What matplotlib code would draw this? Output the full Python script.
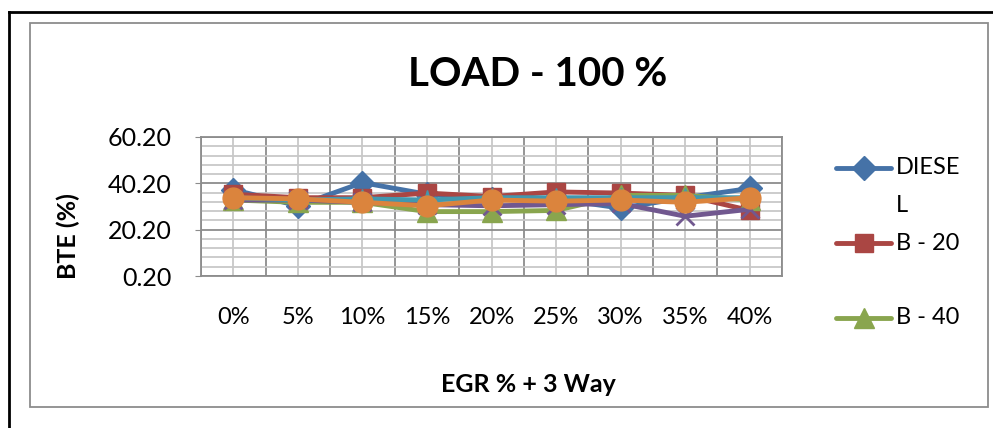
import matplotlib
matplotlib.use('Agg')
import matplotlib.pyplot as plt
from matplotlib.lines import Line2D
from matplotlib.patches import Rectangle
from matplotlib.ticker import FixedLocator

plt.rcParams['font.family'] = ['Lato', 'DejaVu Sans']

categories = ['0%', '5%', '10%', '15%', '20%', '25%', '30%', '35%', '40%']
diesel = [37.5, 30.5, 40.5, 35.5, 33.5, 33.5, 29.5, 34.0, 38.0]
b20 = [35.5, 34.0, 34.0, 36.0, 34.5, 36.5, 36.0, 35.0, 28.5]
b40 = [33.0, 32.0, 32.0, 28.0, 28.0, 28.5, 35.0, 35.0, 33.0]
b60 = [33.0, 33.0, 32.0, 31.0, 30.5, 31.0, 31.5, 26.0, 29.0]
b80 = [34.0, 33.0, 33.5, 33.0, 34.0, 34.0, 34.0, 34.0, 34.0]
b100 = [34.0, 33.5, 32.0, 30.5, 33.0, 32.5, 33.0, 32.0, 34.0]

series = [
    ('DIESEL', diesel, '#4572A7', 'D', 12),
    ('B - 20', b20, '#AA4643', 's', 13),
    ('B - 40', b40, '#89A54E', '^', 14),
    ('B - 60', b60, '#71588F', 'x', 13),
    ('B - 80', b80, '#4198AF', '*', 15),
    ('B - 100', b100, '#DB843D', 'o', 15),
]

fig = plt.figure(figsize=(9.93, 4.28), dpi=100)

# outer black frame and inner grey chart border
fig.add_artist(Line2D([9 / 993, 9 / 993], [0, 1 - 12 / 428], transform=fig.transFigure,
                      color='black', lw=2))
fig.add_artist(Line2D([9 / 993, 1], [1 - 12 / 428, 1 - 12 / 428], transform=fig.transFigure,
                      color='black', lw=2))
fig.add_artist(Rectangle((30 / 993, 1 - 407 / 428), (988 - 30) / 993, (407 - 23) / 428,
                         transform=fig.transFigure, fill=False, edgecolor='#8c8c8c', lw=1.3))

ax = fig.add_axes([201 / 993, 1 - 276 / 428, (782 - 201) / 993, (276 - 137) / 428])

x = list(range(len(categories)))
for name, vals, col, mk, ms in series:
    ax.plot(x, vals, color=col, lw=3.5, marker=mk, markersize=ms,
            markeredgecolor=col, markeredgewidth=2 if mk == 'x' else 1, label=name)

ax.set_xlim(-0.5, len(categories) - 0.5)
ax.set_ylim(0.2, 60.2)
ax.set_xticks(x)
ax.set_xticklabels(categories, fontsize=17)
ax.xaxis.set_minor_locator(FixedLocator([i - 0.5 for i in range(len(categories) + 1)]))
ax.set_yticks([0.2, 20.2, 40.2, 60.2])
ax.set_yticklabels(['0.20', '20.20', '40.20', '60.20'], fontsize=18)
ax.yaxis.set_minor_locator(FixedLocator([0.2 + 4 * i for i in range(16)]))

ax.grid(True, which='major', axis='y', color='#8c8c8c', lw=1.3)
ax.grid(True, which='minor', axis='y', color='#c8c8c8', lw=1.3)
ax.grid(True, which='major', axis='x', color='#c8c8c8', lw=1.3)
ax.grid(True, which='minor', axis='x', color='#8c8c8c', lw=1.3)
ax.set_axisbelow(True)
ax.tick_params(axis='x', which='both', length=0, pad=22)
ax.tick_params(axis='y', which='major', length=4, color='#8c8c8c', pad=17)
ax.tick_params(axis='y', which='minor', length=0)
for s in ax.spines.values():
    s.set_color('#8c8c8c')
    s.set_linewidth(1.3)

fig.text(538 / 993, 1 - 75 / 428, 'LOAD - 100 %', fontsize=29, fontweight='bold',
         ha='center', va='center')
fig.text(528 / 993, 1 - 385 / 428, 'EGR % + 3 Way', fontsize=18, fontweight='bold',
         ha='center', va='center')
fig.text(68 / 993, 1 - 236 / 428, 'BTE (%)', fontsize=18, fontweight='bold',
         ha='center', va='center', rotation=90)

# legend (only first three entries visible in the original)
leg_y = [168, 243, 318]
leg_txt = ['DIESE', 'B - 20', 'B - 40']
for (name, vals, col, mk, ms), yy, t in zip(series[:3], leg_y, leg_txt):
    fy = 1 - yy / 428
    fig.add_artist(Line2D([836 / 993, 891 / 993], [fy, fy], transform=fig.transFigure,
                          color=col, lw=3.5, solid_capstyle='round'))
    fig.add_artist(Line2D([863.5 / 993], [fy], transform=fig.transFigure, color=col,
                          marker=mk, markersize=ms, markeredgecolor=col))
    fig.text(896 / 993, fy, t, fontsize=17, ha='left', va='center')
fig.text(896 / 993, 1 - 205 / 428, 'L', fontsize=17, ha='left', va='center')

fig.savefig('out.png', dpi=100)
